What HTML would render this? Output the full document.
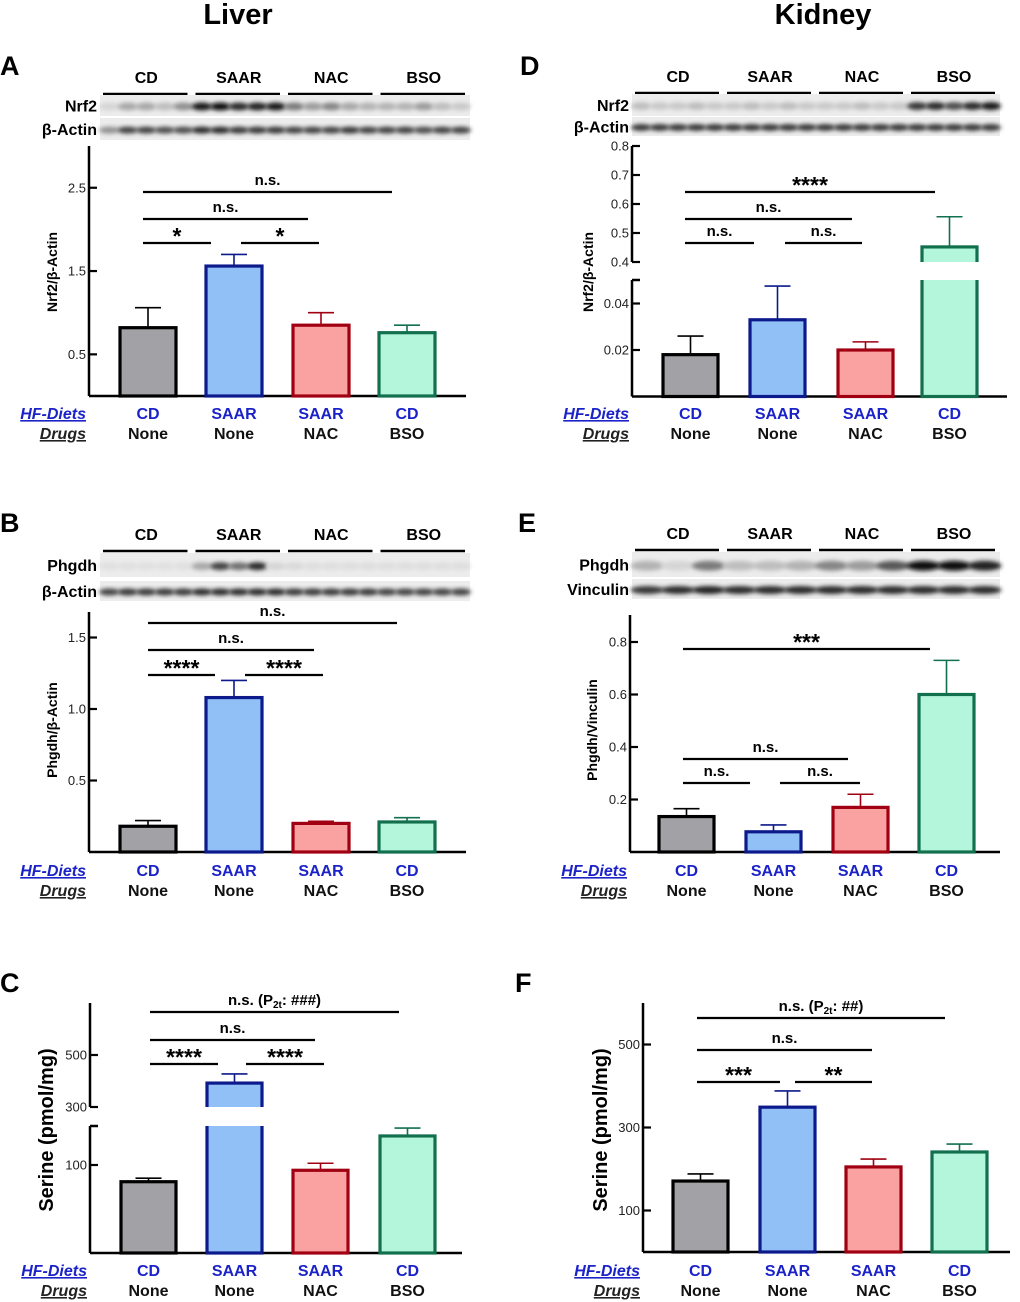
<!DOCTYPE html>
<html><head><meta charset="utf-8">
<style>
html,body{margin:0;padding:0;background:#fff;}
svg{display:block;font-family:"Liberation Sans",Arial,sans-serif;}
</style></head>
<body>
<svg id="fig" width="1020" height="1302" viewBox="0 0 1020 1302" xmlns="http://www.w3.org/2000/svg">
<defs><filter id="blur" x="-50%" y="-50%" width="200%" height="200%"><feGaussianBlur stdDeviation="2.2"/></filter></defs>
<text x="238" y="24" font-size="29" font-weight="bold" text-anchor="middle">Liver</text>
<text x="823" y="24" font-size="29" font-weight="bold" text-anchor="middle">Kidney</text>
</svg>
<script>
// ---- data ----
const diets = ['CD','SAAR','SAAR','CD'];
const drugs = ['None','None','NAC','BSO'];
const groupLabels = ['CD','SAAR','NAC','BSO'];
const aValues = [0.82,1.56,0.85,0.76];
const aErrTop = [1.06,1.70,1.00,0.85];
const aTicks = [0.5,1.5,2.5];
const dValues = [0.018,0.033,0.020,0.452];
const dErrTop = [0.026,0.0475,0.0235,0.556];
const dTicksLow = [0.02,0.04];
const dTicksHigh = [0.4,0.5,0.6,0.7,0.8];
const bValues = [0.18,1.08,0.20,0.21];
const bErrTop = [0.22,1.20,0.215,0.24];
const bTicks = [0.5,1.0,1.5];
const eValues = [0.135,0.077,0.17,0.60];
const eErrTop = [0.165,0.103,0.22,0.73];
const eTicks = [0.2,0.4,0.6,0.8];
const cValues = [81,392,94,133];
const cErrTop = [85,427,102,142];
const cTicksLow = [100];
const cTicksHigh = [300,500];
const fValues = [171,349,205,241];
const fErrTop = [188,388,224,260];
const fTicks = [100,300,500];

const fills = ['#a2a2a6','#90c0f6','#faa2a2','#b4f6dc'];
const strokes = ['#000000','#0c1a8c','#a00012','#12704e'];

const svg = document.getElementById('fig');
const NS = 'http://www.w3.org/2000/svg';
function mk(tag, attrs, parent){
  const e = document.createElementNS(NS, tag);
  for (const k in attrs) e.setAttribute(k, attrs[k]);
  (parent||svg).appendChild(e);
  return e;
}
function txt(s, x, y, size, opts, parent){
  const e = mk('text', Object.assign({x:x, y:y, 'font-size':size}, opts||{}), parent);
  e.textContent = s;
  return e;
}

function panel(p){
  const g = mk('g', {});
  
  
  const L = txt(p.id.toUpperCase(), p.letterX, p.letterY, 27, {'font-weight':'bold'}, g);
  
  
  const ax = mk('g', {}, g);
  
  
  mk('line', {x1:p.ax, x2:p.xEnd, y1:p.base, y2:p.base, stroke:'#000','stroke-width':2.5}, ax);
  if (p.brk) {
    mk('line', {x1:p.ax, x2:p.ax, y1:p.base, y2:p.brk.lowTopPx, stroke:'#000','stroke-width':2.5}, ax);
    mk('line', {x1:p.ax, x2:p.ax+8, y1:p.brk.lowTopPx, y2:p.brk.lowTopPx, stroke:'#000','stroke-width':2.5}, ax);
    mk('line', {x1:p.ax, x2:p.ax, y1:p.brk.highBotPx, y2:p.top, stroke:'#000','stroke-width':2.5}, ax);
  } else {
    mk('line', {x1:p.ax, x2:p.ax, y1:p.base, y2:p.top, stroke:'#000','stroke-width':2.5}, ax);
  }
  p.ticks.forEach(t => {
    const y = p.y(t);
    mk('line', {x1:p.ax, x2:p.ax+8, y1:y, y2:y, stroke:'#000','stroke-width':2.2}, ax);
    const tl = txt(p.fmt(t), p.ax-3, y+4.5, p.tickSize||13, {'text-anchor':'end', fill:'#222'}, ax);
    
    
  });
  const yt = txt(p.yTitle, 0, 0, p.yTitleSize||14, {'font-weight':'bold','text-anchor':'middle',
    transform:'translate('+p.yTitleX+','+p.yTitleY+') rotate(-90)'}, g);
  
  
  p.values.forEach((v, i) => {
    const x = p.barX[i], w = p.barW;
    const cx = x + w/2;
    const bg = mk('g', {}, g);
    
    
    const ey = p.y(p.errTop[i]), vy = p.y(v);
    mk('line', {x1:cx, x2:cx, y1:vy, y2:ey, stroke:strokes[i], 'stroke-width':1.6}, bg);
    mk('line', {x1:cx-13, x2:cx+13, y1:ey, y2:ey, stroke:strokes[i], 'stroke-width':1.6}, bg);
    mk('rect', {x:x, y:vy, width:w, height:p.base-vy, fill:fills[i], stroke:strokes[i], 'stroke-width':3.2}, bg);
    if (p.brk && vy < p.brk.lowTopPx) {
      mk('rect', {x:x-3, y:p.brk.highBotPx, width:w+6, height:p.brk.lowTopPx-p.brk.highBotPx, fill:'#fff'}, bg);
    }
  });
  p.sig.forEach(s => {
    const sg = mk('g', {}, g);
    
    
    mk('line', {x1:s[0], x2:s[1], y1:s[2], y2:s[2], stroke:'#000','stroke-width':2.2}, sg);
    const stars = s[3].indexOf('*')===0;
    const t = txt(s[3], (s[0]+s[1])/2, s[2] + (stars? 1 : -7), stars?23:15, {'font-weight':'bold','text-anchor':'middle'}, sg);
    if (s[4]) { t.textContent='';
      const a = mk('tspan',{},t); a.textContent='n.s. (P';
      const b = mk('tspan',{'font-size':10,dy:3},t); b.textContent='2t';
      const c = mk('tspan',{dy:-3},t); c.textContent=': '+s[4]+')';
    }
  });
  const hl = txt('HF-Diets', p.ax-3, p.labY, 16, {'font-weight':'bold','font-style':'italic','text-anchor':'end',fill:'#1a22c8','text-decoration':'underline'}, g);
  
  
  const dl = txt('Drugs', p.ax-3, p.labY+20, 16, {'font-weight':'bold','font-style':'italic','text-anchor':'end',fill:'#222','text-decoration':'underline'}, g);
  
  
  diets.forEach((d, i) => {
    const cx = p.barX[i] + p.barW/2;
    const t1 = txt(d, cx, p.labY, 16, {'font-weight':'bold','text-anchor':'middle',fill:'#1a22c8'}, g);
    
    
    const t2 = txt(drugs[i], cx, p.labY+20, 16, {'font-weight':'bold','text-anchor':'middle',fill:'#111'}, g);
    
    
  });
}

function blot(b){
  const g = mk('g', {});
  
  
  const gw = (b.x1 - b.x0)/4;
  groupLabels.forEach((l, i) => {
    const t = txt(l, b.x0 + gw*i + gw/2, b.labY, 16, {'font-weight':'bold','text-anchor':'middle'}, g);
    
    
    mk('line', {x1:b.x0 + gw*i + 3, x2:b.x0 + gw*(i+1) - 5, y1:b.labY+11, y2:b.labY+11, stroke:'#000','stroke-width':2.5}, g);
  });
  b.rows.forEach(r => {
    mk('rect', {x:b.x0, y:r.y0, width:b.x1-b.x0, height:r.h, fill:'#ececec'}, g);
    const n = r.lanes.length, lw = (b.x1-b.x0)/n;
    r.lanes.forEach((v, i) => {
      const c = Math.round(235 - 225*v);
      mk('ellipse', {cx:b.x0 + lw*i + lw/2, cy:r.y0 + r.h*0.55, rx:lw*0.55, ry:r.bandH, fill:'rgb('+c+','+c+','+c+')', filter:'url(#blur)'}, g);
    });
    const t = txt(r.label, b.x0-3, r.y0 + r.h/2 + 6, 16, {'font-weight':'bold','text-anchor':'end'}, g);
    
    
  });
}

const lin = (base, k) => v => base - v*k;
const brkScale = (base, kLow, lowMax, hiRef, hiRefPx, kHi) => v => v <= lowMax ? base - v*kLow : hiRefPx - (v-hiRef)*kHi;

blot({id:'a', x0:100, x1:470, labY:83, rows:[
  {label:'Nrf2', y0:95, h:21, bandH:4, lanes:[0.1,0.3,0.3,0.2,0.4, 0.95,1,0.85,0.9,0.95, 0.5,0.35,0.45,0.3,0.25, 0.25,0.25,0.35,0.2,0.15]},
  {label:'β-Actin', y0:118, h:22, bandH:3.5, lanes:[0.4,0.75,0.75,0.7,0.7, 0.85,0.85,0.8,0.8,0.8, 0.75,0.75,0.75,0.8,0.75, 0.75,0.75,0.7,0.75,0.75]}]});
blot({id:'d', x0:632, x1:1000, labY:82, rows:[
  {label:'Nrf2', y0:94, h:22, bandH:4, lanes:[0.2,0.15,0.15,0.2,0.15, 0.15,0.2,0.15,0.2,0.15, 0.15,0.15,0.2,0.15,0.15, 0.8,0.85,0.7,0.85,0.95]},
  {label:'β-Actin', y0:117, h:19, bandH:3.5, lanes:[0.8,0.8,0.8,0.8,0.8, 0.8,0.8,0.8,0.8,0.8, 0.8,0.8,0.8,0.8,0.8, 0.8,0.8,0.8,0.8,0.8]}]});
blot({id:'b', x0:100, x1:470, labY:540, rows:[
  {label:'Phgdh', y0:553, h:24, bandH:4, lanes:[0.05,0.05,0.05,0.05,0.05, 0.3,0.75,0.55,0.85,0.1, 0.08,0.06,0.06,0.06,0.06, 0.06,0.06,0.06,0.06,0.06]},
  {label:'β-Actin', y0:581, h:20, bandH:3.5, lanes:[0.75,0.8,0.8,0.8,0.8, 0.85,0.85,0.85,0.85,0.85, 0.8,0.8,0.8,0.8,0.8, 0.75,0.75,0.75,0.75,0.75]}]});
blot({id:'e', x0:632, x1:1000, labY:539, rows:[
  {label:'Phgdh', y0:552, h:25, bandH:5, lanes:[0.25,0.1,0.5, 0.2,0.2,0.25, 0.45,0.35,0.65, 1,1,0.9]},
  {label:'Vinculin', y0:579, h:20, bandH:4, lanes:[0.8,0.85,0.9, 0.85,0.85,0.85, 0.85,0.85,0.85, 0.85,0.85,0.85]}]});

const liverX = [120,206,293,379], kidX = [663,750,838,922];
panel({id:'a', letterX:0, letterY:75, ax:89, xEnd:466, base:396, top:146, y:lin(396,83.3), ticks:aTicks,
  fmt:v=>v.toFixed(1), values:aValues, errTop:aErrTop, barX:liverX, barW:56,
  yTitle:'Nrf2/β-Actin', yTitleX:57, yTitleY:272, labY:419,
  sig:[[143,392,192,'n.s.'],[143,308,219,'n.s.'],[143,211,243,'*'],[241,319,243,'*']]});
panel({id:'d', letterX:520, letterY:75, ax:632, xEnd:1007, base:396.5, top:146,
  y:brkScale(396.5,2325,0.05,0.4,262,290), brk:{lowTopPx:280, highBotPx:262},
  ticks:dTicksLow.concat(dTicksHigh), fmt:v=>v<0.1?v.toFixed(2):v.toFixed(1),
  values:dValues, errTop:dErrTop, barX:kidX, barW:55,
  yTitle:'Nrf2/β-Actin', yTitleX:593, yTitleY:272, labY:419,
  sig:[[685,935,192,'****'],[685,852,219,'n.s.'],[685,754,243,'n.s.'],[785,862,243,'n.s.']]});
panel({id:'b', letterX:0, letterY:532, ax:89, xEnd:466, base:852, top:612, y:lin(852,143), ticks:bTicks,
  fmt:v=>v.toFixed(1), values:bValues, errTop:bErrTop, barX:liverX, barW:56,
  yTitle:'Phgdh/β-Actin', yTitleX:57, yTitleY:730, labY:876,
  sig:[[148,397,623,'n.s.'],[148,314,650,'n.s.'],[148,215,675,'****'],[245,323,675,'****']]});
panel({id:'e', letterX:518, letterY:532, ax:630, xEnd:1000, base:852, top:615, y:lin(852,262.5), ticks:eTicks,
  fmt:v=>v.toFixed(1), values:eValues, errTop:eErrTop, barX:[659,746,833,919], barW:55,
  yTitle:'Phgdh/Vinculin', yTitleX:597, yTitleY:730, labY:876,
  sig:[[683,930,649,'***'],[683,848,759,'n.s.'],[683,750,783,'n.s.'],[780,860,783,'n.s.']]});
panel({id:'c', letterX:0, letterY:992, ax:90, xEnd:462, base:1253, top:1003,
  y:brkScale(1253,0.88,144,300,1107,0.26), brk:{lowTopPx:1126, highBotPx:1107},
  ticks:cTicksLow.concat(cTicksHigh), fmt:v=>String(v), tickSize:13,
  values:cValues, errTop:cErrTop, barX:[121,207,293,380], barW:55,
  yTitle:'Serine (pmol/mg)', yTitleSize:20, yTitleX:53, yTitleY:1130, labY:1276,
  sig:[[150,399,1012,'n.s.','###'],[150,315,1040,'n.s.'],[150,218,1064,'****'],[246,324,1064,'****']]});
panel({id:'f', letterX:515, letterY:992, ax:643, xEnd:1010, base:1252, top:1003, y:lin(1252,0.415), ticks:fTicks,
  fmt:v=>String(v), tickSize:13, values:fValues, errTop:fErrTop, barX:[673,760,846,932], barW:55,
  yTitle:'Serine (pmol/mg)', yTitleSize:20, yTitleX:607, yTitleY:1130, labY:1276,
  sig:[[697,945,1018,'n.s.','##'],[697,872,1050,'n.s.'],[697,780,1082,'***'],[795,872,1082,'**']]});
</script>
</body></html>
